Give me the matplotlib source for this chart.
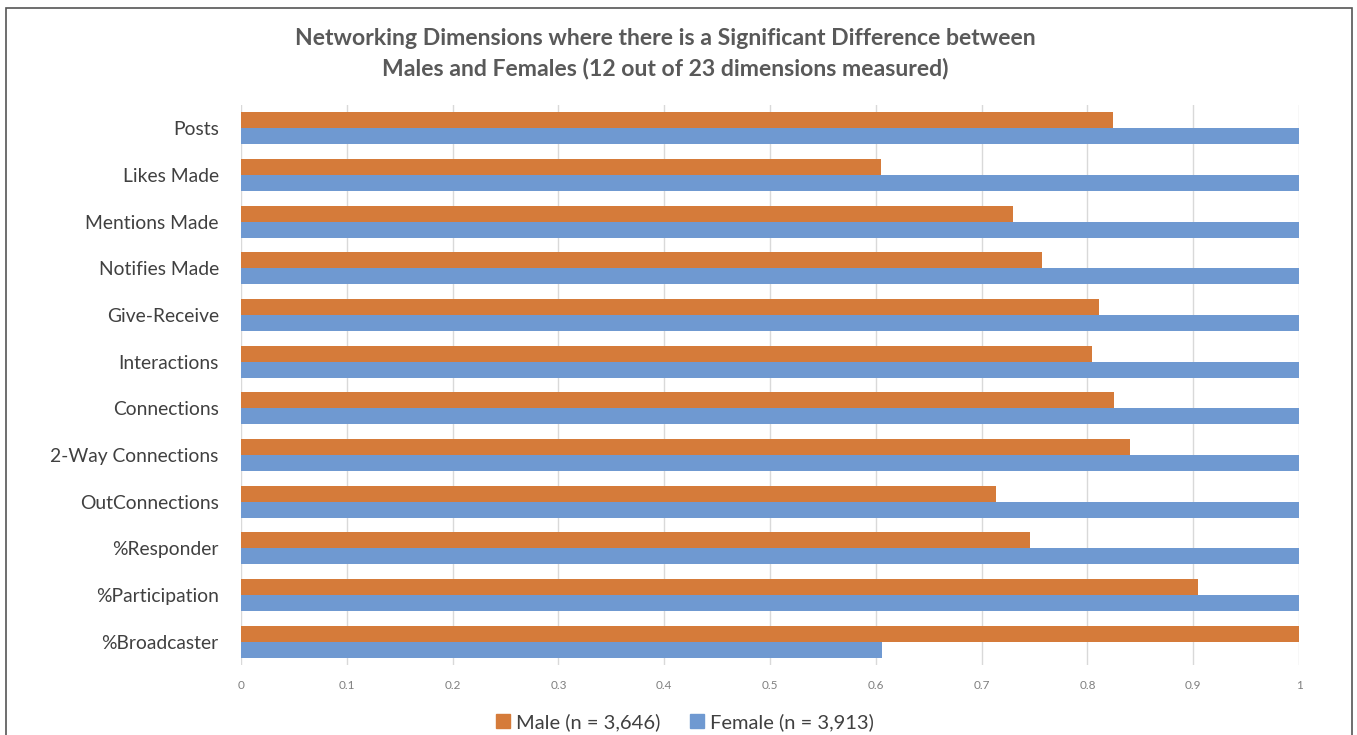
import numpy as np
import matplotlib
matplotlib.use("Agg")
import matplotlib.pyplot as plt
from matplotlib.patches import Rectangle, Patch

plt.rcParams["font.family"] = ["Lato", "DejaVu Sans"]

categories = ["Posts", "Likes Made", "Mentions Made", "Notifies Made", "Give-Receive",
              "Interactions", "Connections", "2-Way Connections", "OutConnections",
              "%Responder", "%Participation", "%Broadcaster"]
male = [0.824, 0.605, 0.730, 0.757, 0.811, 0.804, 0.825, 0.840, 0.714, 0.746, 0.905, 1.0]
female = [1.0, 1.0, 1.0, 1.0, 1.0, 1.0, 1.0, 1.0, 1.0, 1.0, 1.0, 0.606]
xticks = [0, 0.1, 0.2, 0.3, 0.4, 0.5, 0.6, 0.7, 0.8, 0.9, 1]
xticklabels = ["0", "0.1", "0.2", "0.3", "0.4", "0.5", "0.6", "0.7", "0.8", "0.9", "1"]
male_label = "Male (n = 3,646)"
female_label = "Female (n = 3,913)"
title = ("Networking Dimensions where there is a Significant Difference between\n"
         "Males and Females (12 out of 23 dimensions measured)")

orange = "#d57b3a"
blue = "#6f99d1"

fig = plt.figure(figsize=(13.57, 7.35), dpi=100)
W, H = 1357, 735
ax = fig.add_axes([241 / W, 1 - 665 / H, (1299 - 241) / W, (665 - 105) / H])

y = np.arange(len(categories))
h = 0.345
ax.barh(y - h / 2, male, height=h, color=orange, zorder=3)
ax.barh(y + h / 2, female, height=h, color=blue, zorder=3)

ax.set_xlim(0, 1)
ax.set_ylim(len(categories) - 0.5, -0.5)
ax.set_yticks(y)
ax.set_yticklabels(categories, fontsize=13.9, color="#404040")
ax.set_xticks(xticks)
ax.set_xticklabels(xticklabels, fontsize=8.5, color="#808080")
ax.tick_params(axis="y", length=0, pad=16)
ax.tick_params(axis="x", length=0, pad=11)
ax.grid(axis="x", color="#d9d9d9", linewidth=1, zorder=0)
for s in ax.spines.values():
    s.set_visible(False)

fig.text(665 / W, 1 - 54 / H, title, ha="center", va="center", fontsize=16.6,
         fontweight="bold", color="#595959", linespacing=1.5)

handles = [Patch(color=orange, label=male_label), Patch(color=blue, label=female_label)]
fig.legend(handles=handles, loc="center", bbox_to_anchor=(685 / W, 1 - 722 / H), ncol=2,
           frameon=False, fontsize=14.5, handlelength=0.7, handleheight=0.7,
           handletextpad=0.3, columnspacing=1.5, labelcolor="#404040")

fig.patches.append(Rectangle((6 / W, -0.05), (1352 - 6) / W, 1 - 8 / H + 0.05,
                             transform=fig.transFigure, fill=False,
                             edgecolor="#555555", linewidth=1.2))

fig.savefig("out.png", dpi=100)
